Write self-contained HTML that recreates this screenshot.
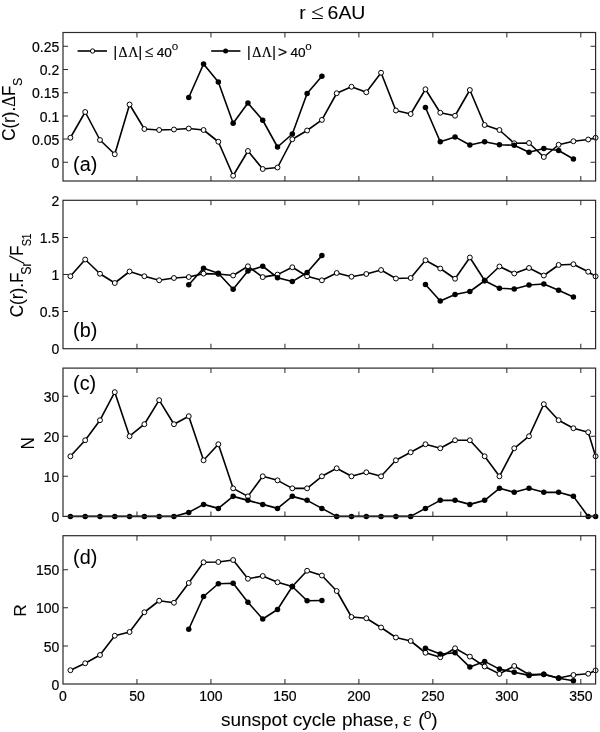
<!DOCTYPE html>
<html lang="en">
<head>
<meta charset="utf-8">
<title>r ≤ 6AU</title>
<style>html,body{margin:0;padding:0;background:#fff}svg{display:block}text{stroke:#000;stroke-width:.2px}text.L{stroke-width:.06px}</style>
</head>
<body>
<svg width="600" height="732" viewBox="0 0 600 732" font-family="'Liberation Sans', Arial, Helvetica, sans-serif" fill="#000">
<rect width="600" height="732" fill="#fff"/>
<text class="L" transform="translate(332.3,19) scale(1.105,1)" text-anchor="middle" font-size="17.6">r <tspan font-size="21" font-family="'Liberation Serif', 'DejaVu Serif', serif">≤</tspan><tspan dx="-1.5"> 6AU</tspan></text>
<text x="59.3" y="167.97" text-anchor="end" font-size="14">0</text>
<text x="59.3" y="144.77" text-anchor="end" font-size="14">0.05</text>
<text x="59.3" y="121.57" text-anchor="end" font-size="14">0.1</text>
<text x="59.3" y="98.37" text-anchor="end" font-size="14">0.15</text>
<text x="59.3" y="75.17" text-anchor="end" font-size="14">0.2</text>
<text x="59.3" y="51.97" text-anchor="end" font-size="14">0.25</text>
<polyline points="70.40,137.75 85.19,112.00 99.99,140.00 114.78,154.25 129.57,104.50 144.37,129.00 159.16,130.00 173.96,129.50 188.75,128.50 203.55,130.00 218.34,141.75 233.14,175.75 247.93,151.00 262.73,169.00 277.52,167.50 292.31,139.25 307.11,130.50 321.90,119.90 336.70,93.25 351.49,86.75 366.29,92.25 381.08,72.75 395.88,110.50 410.67,114.00 425.46,89.25 440.26,112.75 455.05,115.75 469.85,90.00 484.64,125.00 499.44,130.00 514.23,143.25 529.02,143.00 543.82,157.00 558.61,144.75 573.41,141.25 588.20,139.50 595.60,137.75" fill="none" stroke="#000" stroke-width="1.60" stroke-linejoin="round"/>
<circle cx="70.40" cy="137.75" r="2.45" fill="#fff" stroke="#000" stroke-width="1"/>
<circle cx="85.19" cy="112.00" r="2.45" fill="#fff" stroke="#000" stroke-width="1"/>
<circle cx="99.99" cy="140.00" r="2.45" fill="#fff" stroke="#000" stroke-width="1"/>
<circle cx="114.78" cy="154.25" r="2.45" fill="#fff" stroke="#000" stroke-width="1"/>
<circle cx="129.57" cy="104.50" r="2.45" fill="#fff" stroke="#000" stroke-width="1"/>
<circle cx="144.37" cy="129.00" r="2.45" fill="#fff" stroke="#000" stroke-width="1"/>
<circle cx="159.16" cy="130.00" r="2.45" fill="#fff" stroke="#000" stroke-width="1"/>
<circle cx="173.96" cy="129.50" r="2.45" fill="#fff" stroke="#000" stroke-width="1"/>
<circle cx="188.75" cy="128.50" r="2.45" fill="#fff" stroke="#000" stroke-width="1"/>
<circle cx="203.55" cy="130.00" r="2.45" fill="#fff" stroke="#000" stroke-width="1"/>
<circle cx="218.34" cy="141.75" r="2.45" fill="#fff" stroke="#000" stroke-width="1"/>
<circle cx="233.14" cy="175.75" r="2.45" fill="#fff" stroke="#000" stroke-width="1"/>
<circle cx="247.93" cy="151.00" r="2.45" fill="#fff" stroke="#000" stroke-width="1"/>
<circle cx="262.73" cy="169.00" r="2.45" fill="#fff" stroke="#000" stroke-width="1"/>
<circle cx="277.52" cy="167.50" r="2.45" fill="#fff" stroke="#000" stroke-width="1"/>
<circle cx="292.31" cy="139.25" r="2.45" fill="#fff" stroke="#000" stroke-width="1"/>
<circle cx="307.11" cy="130.50" r="2.45" fill="#fff" stroke="#000" stroke-width="1"/>
<circle cx="321.90" cy="119.90" r="2.45" fill="#fff" stroke="#000" stroke-width="1"/>
<circle cx="336.70" cy="93.25" r="2.45" fill="#fff" stroke="#000" stroke-width="1"/>
<circle cx="351.49" cy="86.75" r="2.45" fill="#fff" stroke="#000" stroke-width="1"/>
<circle cx="366.29" cy="92.25" r="2.45" fill="#fff" stroke="#000" stroke-width="1"/>
<circle cx="381.08" cy="72.75" r="2.45" fill="#fff" stroke="#000" stroke-width="1"/>
<circle cx="395.88" cy="110.50" r="2.45" fill="#fff" stroke="#000" stroke-width="1"/>
<circle cx="410.67" cy="114.00" r="2.45" fill="#fff" stroke="#000" stroke-width="1"/>
<circle cx="425.46" cy="89.25" r="2.45" fill="#fff" stroke="#000" stroke-width="1"/>
<circle cx="440.26" cy="112.75" r="2.45" fill="#fff" stroke="#000" stroke-width="1"/>
<circle cx="455.05" cy="115.75" r="2.45" fill="#fff" stroke="#000" stroke-width="1"/>
<circle cx="469.85" cy="90.00" r="2.45" fill="#fff" stroke="#000" stroke-width="1"/>
<circle cx="484.64" cy="125.00" r="2.45" fill="#fff" stroke="#000" stroke-width="1"/>
<circle cx="499.44" cy="130.00" r="2.45" fill="#fff" stroke="#000" stroke-width="1"/>
<circle cx="514.23" cy="143.25" r="2.45" fill="#fff" stroke="#000" stroke-width="1"/>
<circle cx="529.02" cy="143.00" r="2.45" fill="#fff" stroke="#000" stroke-width="1"/>
<circle cx="543.82" cy="157.00" r="2.45" fill="#fff" stroke="#000" stroke-width="1"/>
<circle cx="558.61" cy="144.75" r="2.45" fill="#fff" stroke="#000" stroke-width="1"/>
<circle cx="573.41" cy="141.25" r="2.45" fill="#fff" stroke="#000" stroke-width="1"/>
<circle cx="588.20" cy="139.50" r="2.45" fill="#fff" stroke="#000" stroke-width="1"/>
<circle cx="595.60" cy="137.75" r="2.45" fill="#fff" stroke="#000" stroke-width="1"/>
<polyline points="188.75,97.50 203.55,64.00 218.34,82.00 233.14,123.25 247.93,103.00 262.73,120.25 277.52,147.00 292.31,134.00 307.11,93.50 321.90,76.25" fill="none" stroke="#000" stroke-width="1.60" stroke-linejoin="round"/>
<circle cx="188.75" cy="97.50" r="2.75" fill="#000"/>
<circle cx="203.55" cy="64.00" r="2.75" fill="#000"/>
<circle cx="218.34" cy="82.00" r="2.75" fill="#000"/>
<circle cx="233.14" cy="123.25" r="2.75" fill="#000"/>
<circle cx="247.93" cy="103.00" r="2.75" fill="#000"/>
<circle cx="262.73" cy="120.25" r="2.75" fill="#000"/>
<circle cx="277.52" cy="147.00" r="2.75" fill="#000"/>
<circle cx="292.31" cy="134.00" r="2.75" fill="#000"/>
<circle cx="307.11" cy="93.50" r="2.75" fill="#000"/>
<circle cx="321.90" cy="76.25" r="2.75" fill="#000"/>
<polyline points="425.46,107.50 440.26,141.75 455.05,136.90 469.85,145.00 484.64,141.75 499.44,144.75 514.23,145.25 529.02,152.25 543.82,148.50 558.61,150.50 573.41,159.00" fill="none" stroke="#000" stroke-width="1.60" stroke-linejoin="round"/>
<circle cx="425.46" cy="107.50" r="2.75" fill="#000"/>
<circle cx="440.26" cy="141.75" r="2.75" fill="#000"/>
<circle cx="455.05" cy="136.90" r="2.75" fill="#000"/>
<circle cx="469.85" cy="145.00" r="2.75" fill="#000"/>
<circle cx="484.64" cy="141.75" r="2.75" fill="#000"/>
<circle cx="499.44" cy="144.75" r="2.75" fill="#000"/>
<circle cx="514.23" cy="145.25" r="2.75" fill="#000"/>
<circle cx="529.02" cy="152.25" r="2.75" fill="#000"/>
<circle cx="543.82" cy="148.50" r="2.75" fill="#000"/>
<circle cx="558.61" cy="150.50" r="2.75" fill="#000"/>
<circle cx="573.41" cy="159.00" r="2.75" fill="#000"/>
<text class="L" transform="translate(73.1,171.2) scale(1.015,1)" font-size="19.5">(a)</text>
<rect x="63.00" y="32.50" width="532.60" height="148.50" fill="none" stroke="#2a2a2a" stroke-width="1.20"/>
<path d="M136.97 181.00v-5.00 M136.97 32.50v5.00 M210.94 181.00v-5.00 M210.94 32.50v5.00 M284.92 181.00v-5.00 M284.92 32.50v5.00 M358.89 181.00v-5.00 M358.89 32.50v5.00 M432.86 181.00v-5.00 M432.86 32.50v5.00 M506.83 181.00v-5.00 M506.83 32.50v5.00 M580.81 181.00v-5.00 M580.81 32.50v5.00 M63.00 162.30h5.00 M595.60 162.30h-5.00 M63.00 139.10h5.00 M595.60 139.10h-5.00 M63.00 115.90h5.00 M595.60 115.90h-5.00 M63.00 92.70h5.00 M595.60 92.70h-5.00 M63.00 69.50h5.00 M595.60 69.50h-5.00 M63.00 46.30h5.00 M595.60 46.30h-5.00 " stroke="#2a2a2a" stroke-width="1.02" fill="none"/>
<path d="M77.60 51.00H107.00" stroke="#000" stroke-width="1.60"/>
<circle cx="92.60" cy="51.00" r="2.15" fill="#fff" stroke="#000" stroke-width="1"/>
<text y="57.4" font-size="14"><tspan x="113.40">|</tspan><tspan font-family="'Liberation Serif', 'DejaVu Serif', serif" x="118.60">Δ</tspan><tspan font-family="'Liberation Serif', 'DejaVu Serif', serif" x="128.20">Λ</tspan><tspan x="138.60">|</tspan><tspan font-family="'Liberation Serif', 'DejaVu Serif', serif" x="144.80" font-size="16">≤</tspan><tspan x="156.80" font-size="13.6">40</tspan><tspan x="171.70" font-size="11.6" dy="-7.9" stroke-width="0.05">o</tspan></text>
<path d="M211.20 51.00H240.40" stroke="#000" stroke-width="1.60"/>
<circle cx="225.60" cy="51.00" r="2.5" fill="#000"/>
<text y="57.4" font-size="14"><tspan x="247.00">|</tspan><tspan font-family="'Liberation Serif', 'DejaVu Serif', serif" x="252.20">Δ</tspan><tspan font-family="'Liberation Serif', 'DejaVu Serif', serif" x="261.80">Λ</tspan><tspan x="272.20">|</tspan><tspan  x="278.10" font-size="15.5">&gt;</tspan><tspan x="290.40" font-size="13.6">40</tspan><tspan x="305.30" font-size="11.6" dy="-7.9" stroke-width="0.05">o</tspan></text>
<text x="59.3" y="354.37" text-anchor="end" font-size="14">0</text>
<text x="59.3" y="317.27" text-anchor="end" font-size="14">0.5</text>
<text x="59.3" y="280.17" text-anchor="end" font-size="14">1</text>
<text x="59.3" y="243.07" text-anchor="end" font-size="14">1.5</text>
<text x="59.3" y="205.97" text-anchor="end" font-size="14">2</text>
<polyline points="70.40,276.25 85.19,259.50 99.99,273.75 114.78,283.00 129.57,271.50 144.37,276.25 159.16,280.25 173.96,278.00 188.75,277.00 203.55,273.60 218.34,274.00 233.14,275.50 247.93,266.30 262.73,277.10 277.52,274.60 292.31,267.25 307.11,276.25 321.90,280.30 336.70,273.00 351.49,276.75 366.29,274.00 381.08,270.00 395.88,278.50 410.67,278.00 425.46,260.25 440.26,268.50 455.05,278.75 469.85,257.50 484.64,280.50 499.44,266.50 514.23,273.50 529.02,268.00 543.82,275.50 558.61,265.00 573.41,264.25 588.20,271.75 595.60,276.40" fill="none" stroke="#000" stroke-width="1.60" stroke-linejoin="round"/>
<circle cx="70.40" cy="276.25" r="2.45" fill="#fff" stroke="#000" stroke-width="1"/>
<circle cx="85.19" cy="259.50" r="2.45" fill="#fff" stroke="#000" stroke-width="1"/>
<circle cx="99.99" cy="273.75" r="2.45" fill="#fff" stroke="#000" stroke-width="1"/>
<circle cx="114.78" cy="283.00" r="2.45" fill="#fff" stroke="#000" stroke-width="1"/>
<circle cx="129.57" cy="271.50" r="2.45" fill="#fff" stroke="#000" stroke-width="1"/>
<circle cx="144.37" cy="276.25" r="2.45" fill="#fff" stroke="#000" stroke-width="1"/>
<circle cx="159.16" cy="280.25" r="2.45" fill="#fff" stroke="#000" stroke-width="1"/>
<circle cx="173.96" cy="278.00" r="2.45" fill="#fff" stroke="#000" stroke-width="1"/>
<circle cx="188.75" cy="277.00" r="2.45" fill="#fff" stroke="#000" stroke-width="1"/>
<circle cx="203.55" cy="273.60" r="2.45" fill="#fff" stroke="#000" stroke-width="1"/>
<circle cx="218.34" cy="274.00" r="2.45" fill="#fff" stroke="#000" stroke-width="1"/>
<circle cx="233.14" cy="275.50" r="2.45" fill="#fff" stroke="#000" stroke-width="1"/>
<circle cx="247.93" cy="266.30" r="2.45" fill="#fff" stroke="#000" stroke-width="1"/>
<circle cx="262.73" cy="277.10" r="2.45" fill="#fff" stroke="#000" stroke-width="1"/>
<circle cx="277.52" cy="274.60" r="2.45" fill="#fff" stroke="#000" stroke-width="1"/>
<circle cx="292.31" cy="267.25" r="2.45" fill="#fff" stroke="#000" stroke-width="1"/>
<circle cx="307.11" cy="276.25" r="2.45" fill="#fff" stroke="#000" stroke-width="1"/>
<circle cx="321.90" cy="280.30" r="2.45" fill="#fff" stroke="#000" stroke-width="1"/>
<circle cx="336.70" cy="273.00" r="2.45" fill="#fff" stroke="#000" stroke-width="1"/>
<circle cx="351.49" cy="276.75" r="2.45" fill="#fff" stroke="#000" stroke-width="1"/>
<circle cx="366.29" cy="274.00" r="2.45" fill="#fff" stroke="#000" stroke-width="1"/>
<circle cx="381.08" cy="270.00" r="2.45" fill="#fff" stroke="#000" stroke-width="1"/>
<circle cx="395.88" cy="278.50" r="2.45" fill="#fff" stroke="#000" stroke-width="1"/>
<circle cx="410.67" cy="278.00" r="2.45" fill="#fff" stroke="#000" stroke-width="1"/>
<circle cx="425.46" cy="260.25" r="2.45" fill="#fff" stroke="#000" stroke-width="1"/>
<circle cx="440.26" cy="268.50" r="2.45" fill="#fff" stroke="#000" stroke-width="1"/>
<circle cx="455.05" cy="278.75" r="2.45" fill="#fff" stroke="#000" stroke-width="1"/>
<circle cx="469.85" cy="257.50" r="2.45" fill="#fff" stroke="#000" stroke-width="1"/>
<circle cx="484.64" cy="280.50" r="2.45" fill="#fff" stroke="#000" stroke-width="1"/>
<circle cx="499.44" cy="266.50" r="2.45" fill="#fff" stroke="#000" stroke-width="1"/>
<circle cx="514.23" cy="273.50" r="2.45" fill="#fff" stroke="#000" stroke-width="1"/>
<circle cx="529.02" cy="268.00" r="2.45" fill="#fff" stroke="#000" stroke-width="1"/>
<circle cx="543.82" cy="275.50" r="2.45" fill="#fff" stroke="#000" stroke-width="1"/>
<circle cx="558.61" cy="265.00" r="2.45" fill="#fff" stroke="#000" stroke-width="1"/>
<circle cx="573.41" cy="264.25" r="2.45" fill="#fff" stroke="#000" stroke-width="1"/>
<circle cx="588.20" cy="271.75" r="2.45" fill="#fff" stroke="#000" stroke-width="1"/>
<circle cx="595.60" cy="276.40" r="2.45" fill="#fff" stroke="#000" stroke-width="1"/>
<polyline points="188.75,284.75 203.55,268.25 218.34,273.25 233.14,289.25 247.93,271.00 262.73,266.25 277.52,277.70 292.31,281.60 307.11,272.50 321.90,255.60" fill="none" stroke="#000" stroke-width="1.60" stroke-linejoin="round"/>
<circle cx="188.75" cy="284.75" r="2.75" fill="#000"/>
<circle cx="203.55" cy="268.25" r="2.75" fill="#000"/>
<circle cx="218.34" cy="273.25" r="2.75" fill="#000"/>
<circle cx="233.14" cy="289.25" r="2.75" fill="#000"/>
<circle cx="247.93" cy="271.00" r="2.75" fill="#000"/>
<circle cx="262.73" cy="266.25" r="2.75" fill="#000"/>
<circle cx="277.52" cy="277.70" r="2.75" fill="#000"/>
<circle cx="292.31" cy="281.60" r="2.75" fill="#000"/>
<circle cx="307.11" cy="272.50" r="2.75" fill="#000"/>
<circle cx="321.90" cy="255.60" r="2.75" fill="#000"/>
<polyline points="425.46,284.50 440.26,301.00 455.05,294.50 469.85,291.50 484.64,280.75 499.44,288.25 514.23,289.00 529.02,285.00 543.82,284.00 558.61,290.25 573.41,297.00" fill="none" stroke="#000" stroke-width="1.60" stroke-linejoin="round"/>
<circle cx="425.46" cy="284.50" r="2.75" fill="#000"/>
<circle cx="440.26" cy="301.00" r="2.75" fill="#000"/>
<circle cx="455.05" cy="294.50" r="2.75" fill="#000"/>
<circle cx="469.85" cy="291.50" r="2.75" fill="#000"/>
<circle cx="484.64" cy="280.75" r="2.75" fill="#000"/>
<circle cx="499.44" cy="288.25" r="2.75" fill="#000"/>
<circle cx="514.23" cy="289.00" r="2.75" fill="#000"/>
<circle cx="529.02" cy="285.00" r="2.75" fill="#000"/>
<circle cx="543.82" cy="284.00" r="2.75" fill="#000"/>
<circle cx="558.61" cy="290.25" r="2.75" fill="#000"/>
<circle cx="573.41" cy="297.00" r="2.75" fill="#000"/>
<text class="L" transform="translate(73.1,336.6) scale(1.015,1)" font-size="19.5">(b)</text>
<rect x="63.00" y="200.30" width="532.60" height="148.40" fill="none" stroke="#2a2a2a" stroke-width="1.20"/>
<path d="M136.97 348.70v-5.00 M136.97 200.30v5.00 M210.94 348.70v-5.00 M210.94 200.30v5.00 M284.92 348.70v-5.00 M284.92 200.30v5.00 M358.89 348.70v-5.00 M358.89 200.30v5.00 M432.86 348.70v-5.00 M432.86 200.30v5.00 M506.83 348.70v-5.00 M506.83 200.30v5.00 M580.81 348.70v-5.00 M580.81 200.30v5.00 M63.00 311.60h5.00 M595.60 311.60h-5.00 M63.00 274.50h5.00 M595.60 274.50h-5.00 M63.00 237.40h5.00 M595.60 237.40h-5.00 " stroke="#2a2a2a" stroke-width="1.02" fill="none"/>
<text x="59.3" y="522.07" text-anchor="end" font-size="14">0</text>
<text x="59.3" y="481.99" text-anchor="end" font-size="14">10</text>
<text x="59.3" y="441.91" text-anchor="end" font-size="14">20</text>
<text x="59.3" y="401.83" text-anchor="end" font-size="14">30</text>
<polyline points="70.40,456.28 85.19,440.25 99.99,420.21 114.78,392.15 129.57,436.24 144.37,424.21 159.16,400.16 173.96,424.21 188.75,416.20 203.55,460.29 218.34,444.25 233.14,488.34 247.93,496.36 262.73,476.32 277.52,480.33 292.31,488.34 307.11,488.34 321.90,476.32 336.70,468.30 351.49,476.32 366.29,472.31 381.08,476.32 395.88,460.29 410.67,452.27 425.46,444.25 440.26,448.26 455.05,440.25 469.85,440.25 484.64,456.28 499.44,476.32 514.23,448.26 529.02,436.24 543.82,404.17 558.61,420.21 573.41,428.22 588.20,432.23 595.60,456.28" fill="none" stroke="#000" stroke-width="1.60" stroke-linejoin="round"/>
<circle cx="70.40" cy="456.28" r="2.45" fill="#fff" stroke="#000" stroke-width="1"/>
<circle cx="85.19" cy="440.25" r="2.45" fill="#fff" stroke="#000" stroke-width="1"/>
<circle cx="99.99" cy="420.21" r="2.45" fill="#fff" stroke="#000" stroke-width="1"/>
<circle cx="114.78" cy="392.15" r="2.45" fill="#fff" stroke="#000" stroke-width="1"/>
<circle cx="129.57" cy="436.24" r="2.45" fill="#fff" stroke="#000" stroke-width="1"/>
<circle cx="144.37" cy="424.21" r="2.45" fill="#fff" stroke="#000" stroke-width="1"/>
<circle cx="159.16" cy="400.16" r="2.45" fill="#fff" stroke="#000" stroke-width="1"/>
<circle cx="173.96" cy="424.21" r="2.45" fill="#fff" stroke="#000" stroke-width="1"/>
<circle cx="188.75" cy="416.20" r="2.45" fill="#fff" stroke="#000" stroke-width="1"/>
<circle cx="203.55" cy="460.29" r="2.45" fill="#fff" stroke="#000" stroke-width="1"/>
<circle cx="218.34" cy="444.25" r="2.45" fill="#fff" stroke="#000" stroke-width="1"/>
<circle cx="233.14" cy="488.34" r="2.45" fill="#fff" stroke="#000" stroke-width="1"/>
<circle cx="247.93" cy="496.36" r="2.45" fill="#fff" stroke="#000" stroke-width="1"/>
<circle cx="262.73" cy="476.32" r="2.45" fill="#fff" stroke="#000" stroke-width="1"/>
<circle cx="277.52" cy="480.33" r="2.45" fill="#fff" stroke="#000" stroke-width="1"/>
<circle cx="292.31" cy="488.34" r="2.45" fill="#fff" stroke="#000" stroke-width="1"/>
<circle cx="307.11" cy="488.34" r="2.45" fill="#fff" stroke="#000" stroke-width="1"/>
<circle cx="321.90" cy="476.32" r="2.45" fill="#fff" stroke="#000" stroke-width="1"/>
<circle cx="336.70" cy="468.30" r="2.45" fill="#fff" stroke="#000" stroke-width="1"/>
<circle cx="351.49" cy="476.32" r="2.45" fill="#fff" stroke="#000" stroke-width="1"/>
<circle cx="366.29" cy="472.31" r="2.45" fill="#fff" stroke="#000" stroke-width="1"/>
<circle cx="381.08" cy="476.32" r="2.45" fill="#fff" stroke="#000" stroke-width="1"/>
<circle cx="395.88" cy="460.29" r="2.45" fill="#fff" stroke="#000" stroke-width="1"/>
<circle cx="410.67" cy="452.27" r="2.45" fill="#fff" stroke="#000" stroke-width="1"/>
<circle cx="425.46" cy="444.25" r="2.45" fill="#fff" stroke="#000" stroke-width="1"/>
<circle cx="440.26" cy="448.26" r="2.45" fill="#fff" stroke="#000" stroke-width="1"/>
<circle cx="455.05" cy="440.25" r="2.45" fill="#fff" stroke="#000" stroke-width="1"/>
<circle cx="469.85" cy="440.25" r="2.45" fill="#fff" stroke="#000" stroke-width="1"/>
<circle cx="484.64" cy="456.28" r="2.45" fill="#fff" stroke="#000" stroke-width="1"/>
<circle cx="499.44" cy="476.32" r="2.45" fill="#fff" stroke="#000" stroke-width="1"/>
<circle cx="514.23" cy="448.26" r="2.45" fill="#fff" stroke="#000" stroke-width="1"/>
<circle cx="529.02" cy="436.24" r="2.45" fill="#fff" stroke="#000" stroke-width="1"/>
<circle cx="543.82" cy="404.17" r="2.45" fill="#fff" stroke="#000" stroke-width="1"/>
<circle cx="558.61" cy="420.21" r="2.45" fill="#fff" stroke="#000" stroke-width="1"/>
<circle cx="573.41" cy="428.22" r="2.45" fill="#fff" stroke="#000" stroke-width="1"/>
<circle cx="588.20" cy="432.23" r="2.45" fill="#fff" stroke="#000" stroke-width="1"/>
<circle cx="595.60" cy="456.28" r="2.45" fill="#fff" stroke="#000" stroke-width="1"/>
<polyline points="70.40,516.40 85.19,516.40 99.99,516.40 114.78,516.40 129.57,516.40 144.37,516.40 159.16,516.40 173.96,516.40 188.75,512.39 203.55,504.38 218.34,508.38 233.14,496.36 247.93,500.37 262.73,504.38 277.52,508.38 292.31,496.36 307.11,500.37 321.90,508.38 336.70,516.40 351.49,516.40 366.29,516.40 381.08,516.40 395.88,516.40 410.67,516.40 425.46,508.38 440.26,500.37 455.05,500.37 469.85,504.38 484.64,500.37 499.44,488.34 514.23,492.35 529.02,488.34 543.82,492.35 558.61,492.35 573.41,496.36 588.20,516.40 595.60,516.40" fill="none" stroke="#000" stroke-width="1.60" stroke-linejoin="round"/>
<circle cx="70.40" cy="516.40" r="2.75" fill="#000"/>
<circle cx="85.19" cy="516.40" r="2.75" fill="#000"/>
<circle cx="99.99" cy="516.40" r="2.75" fill="#000"/>
<circle cx="114.78" cy="516.40" r="2.75" fill="#000"/>
<circle cx="129.57" cy="516.40" r="2.75" fill="#000"/>
<circle cx="144.37" cy="516.40" r="2.75" fill="#000"/>
<circle cx="159.16" cy="516.40" r="2.75" fill="#000"/>
<circle cx="173.96" cy="516.40" r="2.75" fill="#000"/>
<circle cx="188.75" cy="512.39" r="2.75" fill="#000"/>
<circle cx="203.55" cy="504.38" r="2.75" fill="#000"/>
<circle cx="218.34" cy="508.38" r="2.75" fill="#000"/>
<circle cx="233.14" cy="496.36" r="2.75" fill="#000"/>
<circle cx="247.93" cy="500.37" r="2.75" fill="#000"/>
<circle cx="262.73" cy="504.38" r="2.75" fill="#000"/>
<circle cx="277.52" cy="508.38" r="2.75" fill="#000"/>
<circle cx="292.31" cy="496.36" r="2.75" fill="#000"/>
<circle cx="307.11" cy="500.37" r="2.75" fill="#000"/>
<circle cx="321.90" cy="508.38" r="2.75" fill="#000"/>
<circle cx="336.70" cy="516.40" r="2.75" fill="#000"/>
<circle cx="351.49" cy="516.40" r="2.75" fill="#000"/>
<circle cx="366.29" cy="516.40" r="2.75" fill="#000"/>
<circle cx="381.08" cy="516.40" r="2.75" fill="#000"/>
<circle cx="395.88" cy="516.40" r="2.75" fill="#000"/>
<circle cx="410.67" cy="516.40" r="2.75" fill="#000"/>
<circle cx="425.46" cy="508.38" r="2.75" fill="#000"/>
<circle cx="440.26" cy="500.37" r="2.75" fill="#000"/>
<circle cx="455.05" cy="500.37" r="2.75" fill="#000"/>
<circle cx="469.85" cy="504.38" r="2.75" fill="#000"/>
<circle cx="484.64" cy="500.37" r="2.75" fill="#000"/>
<circle cx="499.44" cy="488.34" r="2.75" fill="#000"/>
<circle cx="514.23" cy="492.35" r="2.75" fill="#000"/>
<circle cx="529.02" cy="488.34" r="2.75" fill="#000"/>
<circle cx="543.82" cy="492.35" r="2.75" fill="#000"/>
<circle cx="558.61" cy="492.35" r="2.75" fill="#000"/>
<circle cx="573.41" cy="496.36" r="2.75" fill="#000"/>
<circle cx="588.20" cy="516.40" r="2.75" fill="#000"/>
<circle cx="595.60" cy="516.40" r="2.75" fill="#000"/>
<text class="L" transform="translate(73.1,390.2) scale(1.015,1)" font-size="19.5">(c)</text>
<rect x="63.00" y="368.10" width="532.60" height="148.30" fill="none" stroke="#2a2a2a" stroke-width="1.20"/>
<path d="M136.97 516.40v-5.00 M136.97 368.10v5.00 M210.94 516.40v-5.00 M210.94 368.10v5.00 M284.92 516.40v-5.00 M284.92 368.10v5.00 M358.89 516.40v-5.00 M358.89 368.10v5.00 M432.86 516.40v-5.00 M432.86 368.10v5.00 M506.83 516.40v-5.00 M506.83 368.10v5.00 M580.81 516.40v-5.00 M580.81 368.10v5.00 M63.00 476.32h5.00 M595.60 476.32h-5.00 M63.00 436.24h5.00 M595.60 436.24h-5.00 M63.00 396.16h5.00 M595.60 396.16h-5.00 " stroke="#2a2a2a" stroke-width="1.02" fill="none"/>
<text x="59.3" y="689.67" text-anchor="end" font-size="14">0</text>
<text x="59.3" y="651.57" text-anchor="end" font-size="14">50</text>
<text x="59.3" y="613.47" text-anchor="end" font-size="14">100</text>
<text x="59.3" y="575.37" text-anchor="end" font-size="14">150</text>
<polyline points="70.40,670.25 85.19,663.25 99.99,655.00 114.78,635.75 129.57,632.00 144.37,612.25 159.16,600.75 173.96,602.75 188.75,583.00 203.55,562.25 218.34,562.00 233.14,560.00 247.93,578.75 262.73,576.00 277.52,582.25 292.31,586.50 307.11,570.75 321.90,575.50 336.70,591.00 351.49,617.00 366.29,618.25 381.08,627.50 395.88,637.50 410.67,641.00 425.46,652.75 440.26,657.25 455.05,648.25 469.85,656.60 484.64,666.50 499.44,673.90 514.23,666.00 529.02,674.50 543.82,674.40 558.61,678.00 573.41,675.00 588.20,673.75 595.60,670.40" fill="none" stroke="#000" stroke-width="1.60" stroke-linejoin="round"/>
<circle cx="70.40" cy="670.25" r="2.45" fill="#fff" stroke="#000" stroke-width="1"/>
<circle cx="85.19" cy="663.25" r="2.45" fill="#fff" stroke="#000" stroke-width="1"/>
<circle cx="99.99" cy="655.00" r="2.45" fill="#fff" stroke="#000" stroke-width="1"/>
<circle cx="114.78" cy="635.75" r="2.45" fill="#fff" stroke="#000" stroke-width="1"/>
<circle cx="129.57" cy="632.00" r="2.45" fill="#fff" stroke="#000" stroke-width="1"/>
<circle cx="144.37" cy="612.25" r="2.45" fill="#fff" stroke="#000" stroke-width="1"/>
<circle cx="159.16" cy="600.75" r="2.45" fill="#fff" stroke="#000" stroke-width="1"/>
<circle cx="173.96" cy="602.75" r="2.45" fill="#fff" stroke="#000" stroke-width="1"/>
<circle cx="188.75" cy="583.00" r="2.45" fill="#fff" stroke="#000" stroke-width="1"/>
<circle cx="203.55" cy="562.25" r="2.45" fill="#fff" stroke="#000" stroke-width="1"/>
<circle cx="218.34" cy="562.00" r="2.45" fill="#fff" stroke="#000" stroke-width="1"/>
<circle cx="233.14" cy="560.00" r="2.45" fill="#fff" stroke="#000" stroke-width="1"/>
<circle cx="247.93" cy="578.75" r="2.45" fill="#fff" stroke="#000" stroke-width="1"/>
<circle cx="262.73" cy="576.00" r="2.45" fill="#fff" stroke="#000" stroke-width="1"/>
<circle cx="277.52" cy="582.25" r="2.45" fill="#fff" stroke="#000" stroke-width="1"/>
<circle cx="292.31" cy="586.50" r="2.45" fill="#fff" stroke="#000" stroke-width="1"/>
<circle cx="307.11" cy="570.75" r="2.45" fill="#fff" stroke="#000" stroke-width="1"/>
<circle cx="321.90" cy="575.50" r="2.45" fill="#fff" stroke="#000" stroke-width="1"/>
<circle cx="336.70" cy="591.00" r="2.45" fill="#fff" stroke="#000" stroke-width="1"/>
<circle cx="351.49" cy="617.00" r="2.45" fill="#fff" stroke="#000" stroke-width="1"/>
<circle cx="366.29" cy="618.25" r="2.45" fill="#fff" stroke="#000" stroke-width="1"/>
<circle cx="381.08" cy="627.50" r="2.45" fill="#fff" stroke="#000" stroke-width="1"/>
<circle cx="395.88" cy="637.50" r="2.45" fill="#fff" stroke="#000" stroke-width="1"/>
<circle cx="410.67" cy="641.00" r="2.45" fill="#fff" stroke="#000" stroke-width="1"/>
<circle cx="425.46" cy="652.75" r="2.45" fill="#fff" stroke="#000" stroke-width="1"/>
<circle cx="440.26" cy="657.25" r="2.45" fill="#fff" stroke="#000" stroke-width="1"/>
<circle cx="455.05" cy="648.25" r="2.45" fill="#fff" stroke="#000" stroke-width="1"/>
<circle cx="469.85" cy="656.60" r="2.45" fill="#fff" stroke="#000" stroke-width="1"/>
<circle cx="484.64" cy="666.50" r="2.45" fill="#fff" stroke="#000" stroke-width="1"/>
<circle cx="499.44" cy="673.90" r="2.45" fill="#fff" stroke="#000" stroke-width="1"/>
<circle cx="514.23" cy="666.00" r="2.45" fill="#fff" stroke="#000" stroke-width="1"/>
<circle cx="529.02" cy="674.50" r="2.45" fill="#fff" stroke="#000" stroke-width="1"/>
<circle cx="543.82" cy="674.40" r="2.45" fill="#fff" stroke="#000" stroke-width="1"/>
<circle cx="558.61" cy="678.00" r="2.45" fill="#fff" stroke="#000" stroke-width="1"/>
<circle cx="573.41" cy="675.00" r="2.45" fill="#fff" stroke="#000" stroke-width="1"/>
<circle cx="588.20" cy="673.75" r="2.45" fill="#fff" stroke="#000" stroke-width="1"/>
<circle cx="595.60" cy="670.40" r="2.45" fill="#fff" stroke="#000" stroke-width="1"/>
<polyline points="188.75,629.25 203.55,596.50 218.34,583.75 233.14,583.25 247.93,602.25 262.73,619.00 277.52,609.50 292.31,586.50 307.11,600.75 321.90,600.50" fill="none" stroke="#000" stroke-width="1.60" stroke-linejoin="round"/>
<circle cx="188.75" cy="629.25" r="2.75" fill="#000"/>
<circle cx="203.55" cy="596.50" r="2.75" fill="#000"/>
<circle cx="218.34" cy="583.75" r="2.75" fill="#000"/>
<circle cx="233.14" cy="583.25" r="2.75" fill="#000"/>
<circle cx="247.93" cy="602.25" r="2.75" fill="#000"/>
<circle cx="262.73" cy="619.00" r="2.75" fill="#000"/>
<circle cx="277.52" cy="609.50" r="2.75" fill="#000"/>
<circle cx="292.31" cy="586.50" r="2.75" fill="#000"/>
<circle cx="307.11" cy="600.75" r="2.75" fill="#000"/>
<circle cx="321.90" cy="600.50" r="2.75" fill="#000"/>
<polyline points="425.46,648.25 440.26,654.10 455.05,652.75 469.85,667.10 484.64,661.40 499.44,669.10 514.23,672.20 529.02,675.40 543.82,674.20 558.61,678.30 573.41,680.80" fill="none" stroke="#000" stroke-width="1.60" stroke-linejoin="round"/>
<circle cx="425.46" cy="648.25" r="2.75" fill="#000"/>
<circle cx="440.26" cy="654.10" r="2.75" fill="#000"/>
<circle cx="455.05" cy="652.75" r="2.75" fill="#000"/>
<circle cx="469.85" cy="667.10" r="2.75" fill="#000"/>
<circle cx="484.64" cy="661.40" r="2.75" fill="#000"/>
<circle cx="499.44" cy="669.10" r="2.75" fill="#000"/>
<circle cx="514.23" cy="672.20" r="2.75" fill="#000"/>
<circle cx="529.02" cy="675.40" r="2.75" fill="#000"/>
<circle cx="543.82" cy="674.20" r="2.75" fill="#000"/>
<circle cx="558.61" cy="678.30" r="2.75" fill="#000"/>
<circle cx="573.41" cy="680.80" r="2.75" fill="#000"/>
<text class="L" transform="translate(73.1,564.2) scale(1.015,1)" font-size="19.5">(d)</text>
<rect x="63.00" y="535.70" width="532.60" height="148.30" fill="none" stroke="#2a2a2a" stroke-width="1.20"/>
<path d="M136.97 684.00v-5.00 M136.97 535.70v5.00 M210.94 684.00v-5.00 M210.94 535.70v5.00 M284.92 684.00v-5.00 M284.92 535.70v5.00 M358.89 684.00v-5.00 M358.89 535.70v5.00 M432.86 684.00v-5.00 M432.86 535.70v5.00 M506.83 684.00v-5.00 M506.83 535.70v5.00 M580.81 684.00v-5.00 M580.81 535.70v5.00 M63.00 645.90h5.00 M595.60 645.90h-5.00 M63.00 607.80h5.00 M595.60 607.80h-5.00 M63.00 569.70h5.00 M595.60 569.70h-5.00 " stroke="#2a2a2a" stroke-width="1.02" fill="none"/>
<text x="63.00" y="701.2" text-anchor="middle" font-size="14">0</text>
<text x="136.97" y="701.2" text-anchor="middle" font-size="14">50</text>
<text x="210.94" y="701.2" text-anchor="middle" font-size="14">100</text>
<text x="284.92" y="701.2" text-anchor="middle" font-size="14">150</text>
<text x="358.89" y="701.2" text-anchor="middle" font-size="14">200</text>
<text x="432.86" y="701.2" text-anchor="middle" font-size="14">250</text>
<text x="506.83" y="701.2" text-anchor="middle" font-size="14">300</text>
<text x="580.81" y="701.2" text-anchor="middle" font-size="14">350</text>
<text class="L" transform="translate(220.9,725.6) scale(1.0,1)" font-size="19">sunspot cycle<tspan dx="0.6"> phase,</tspan> <tspan dx="-1.6" font-size="21" font-family="'Liberation Serif', 'DejaVu Serif', serif">ε</tspan><tspan dx="1.4"> (</tspan><tspan font-size="14" dy="-6.9" dx="-0.6">o</tspan><tspan dy="6.9" dx="-0.3">)</tspan></text>
<text class="L" transform="translate(15.0,140.8) rotate(-90) scale(1,1.09)" font-size="17">C(r).<tspan font-family="'Liberation Serif', 'DejaVu Serif', serif">Δ</tspan>F<tspan font-size="12.5" dy="6.8" dx="-0.5">S</tspan></text>
<text class="L" transform="translate(23.2,317.3) rotate(-90) scale(1,1.1)" font-size="17.2">C(r).F<tspan font-size="12.5" dy="6.8" dx="-2.4">Sr</tspan></text>
<text class="L" transform="translate(23.2,263.6) rotate(-90) scale(1,1.1) skewX(-15)" font-size="17.2">/</text>
<text class="L" transform="translate(23.2,255.9) rotate(-90) scale(1,1.1)" font-size="17.2">F<tspan font-size="11" dy="6.8" dx="-0.9" letter-spacing="-0.5">S1</tspan></text>
<text class="L" transform="translate(34.3,443.3) rotate(-90) scale(1,1.03)" font-size="17.2" text-anchor="middle">N</text>
<text class="L" transform="translate(26.3,610.6) rotate(-90) scale(1,1.0)" font-size="17.2" text-anchor="middle">R</text>
</svg>
</body>
</html>
